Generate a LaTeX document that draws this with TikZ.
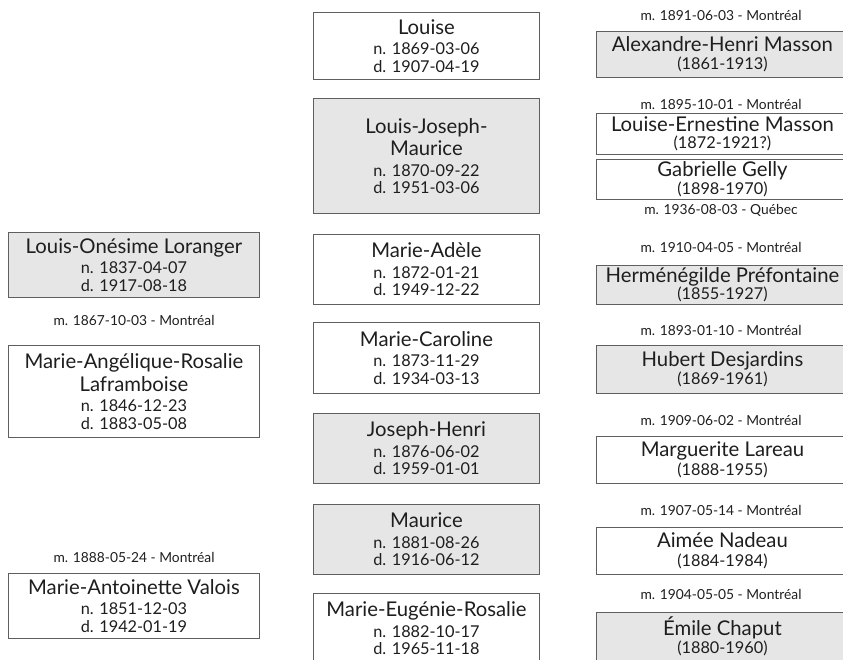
\documentclass[tikz,border=0pt]{standalone}
\usepackage{fontspec}
\setmainfont{Lato}
\usepackage{xcolor}
\usepackage{tikz}
\definecolor{boxgrey}{RGB}{230,230,230}
\definecolor{edgegrey}{RGB}{95,95,95}
\definecolor{inkgrey}{RGB}{30,30,30}
\newcommand{\pname}[1]{{\fontsize{20.3}{22}\selectfont #1}}

\begin{document}
\begin{tikzpicture}[x=1pt, y=-1pt, every node/.style={text=inkgrey, font=\fontsize{16.3}{17.5}\selectfont},
  person/.style={draw=edgegrey, line width=0.9pt, rectangle, anchor=north west, align=center, inner sep=0pt},
  kid/.style={person, minimum width=226pt},
  parent/.style={person, minimum width=251pt},
  spouse/.style={person, minimum width=252pt},
  wed/.style={font=\fontsize{13.8}{15}\selectfont}]
\useasboundingbox (0,0) rectangle (843,659);
\clip (0,0) rectangle (843,659);

% Parents
\node[parent, fill=boxgrey, minimum height=65pt] (father) at (8,232) {\pname{Louis-Onésime Loranger}\\[3pt]n. 1837-04-07\\d. 1917-08-18};
\node[wed] (wfather) at (134,320) {m. 1867-10-03 - Montréal};
\node[parent, fill=white, minimum height=92pt] (mother) at (8,345) {\pname{Marie-Angélique-Rosalie}\\[3pt]\pname{Laframboise}\\[3pt]n. 1846-12-23\\d. 1883-05-08};
\node[wed] (wsecond) at (134,557) {m. 1888-05-24 - Montréal};
\node[parent, fill=white, minimum height=65pt] (second) at (8,573) {\pname{Marie-Antoinette Valois}\\[3pt]n. 1851-12-03\\d. 1942-01-19};

% Children
\node[kid, fill=white, minimum height=67pt] (louise) at (313,12) {\pname{Louise}\\[3pt]n. 1869-03-06\\d. 1907-04-19};
\node[kid, fill=boxgrey, minimum height=115pt] (ljm) at (313,98) {\pname{Louis-Joseph-}\\[3pt]\pname{Maurice}\\[3pt]n. 1870-09-22\\d. 1951-03-06};
\node[kid, fill=white, minimum height=70pt] (madele) at (313,234) {\pname{Marie-Adèle}\\[3pt]n. 1872-01-21\\d. 1949-12-22};
\node[kid, fill=white, minimum height=71pt] (mcaroline) at (313,322) {\pname{Marie-Caroline}\\[3pt]n. 1873-11-29\\d. 1934-03-13};
\node[kid, fill=boxgrey, minimum height=70pt] (jhenri) at (313,413) {\pname{Joseph-Henri}\\[3pt]n. 1876-06-02\\d. 1959-01-01};
\node[kid, fill=boxgrey, minimum height=70pt] (maurice) at (313,504) {\pname{Maurice}\\[3pt]n. 1881-08-26\\d. 1916-06-12};
\node[kid, fill=white, minimum height=70pt] (meugenie) at (313,593) {\pname{Marie-Eugénie-Rosalie}\\[3pt]n. 1882-10-17\\d. 1965-11-18};

% Spouses
\node[wed] (walex) at (721,15) {m. 1891-06-03 - Montréal};
\node[spouse, fill=boxgrey, minimum height=46pt] (alex) at (596,31) {\pname{Alexandre-Henri Masson}\\[1pt](1861-1913)};
\node[wed] (wlem) at (721,104) {m. 1895-10-01 - Montréal};
\node[spouse, fill=white, minimum height=41pt] (lem) at (596,113) {\pname{Louise-Ernestine Masson}\\(1872-1921?)};
\node[spouse, fill=white, minimum height=40pt] (gelly) at (596,159) {\pname{Gabrielle Gelly}\\(1898-1970)};
\node[wed] (wgelly) at (721,210) {m. 1936-08-03 - Québec};
\node[wed] (wherm) at (721,247) {m. 1910-04-05 - Montréal};
\node[spouse, fill=boxgrey, minimum height=39pt] (herm) at (596,265) {\pname{Herménégilde Préfontaine}\\(1855-1927)};
\node[wed] (whubert) at (721,330) {m. 1893-01-10 - Montréal};
\node[spouse, fill=boxgrey, minimum height=48pt] (hubert) at (596,345) {\pname{Hubert Desjardins}\\[1pt](1869-1961)};
\node[wed] (wmarg) at (721,420) {m. 1909-06-02 - Montréal};
\node[spouse, fill=white, minimum height=47pt] (marg) at (596,436) {\pname{Marguerite Lareau}\\[1pt](1888-1955)};
\node[wed] (waimee) at (721,510) {m. 1907-05-14 - Montréal};
\node[spouse, fill=white, minimum height=47pt] (aimee) at (596,527) {\pname{Aimée Nadeau}\\[1pt](1884-1984)};
\node[wed] (wemile) at (721,594) {m. 1904-05-05 - Montréal};
\node[spouse, fill=boxgrey, minimum height=48pt] (emile) at (596,612) {\pname{Émile Chaput}\\[1pt](1880-1960)};
\end{tikzpicture}
\end{document}
